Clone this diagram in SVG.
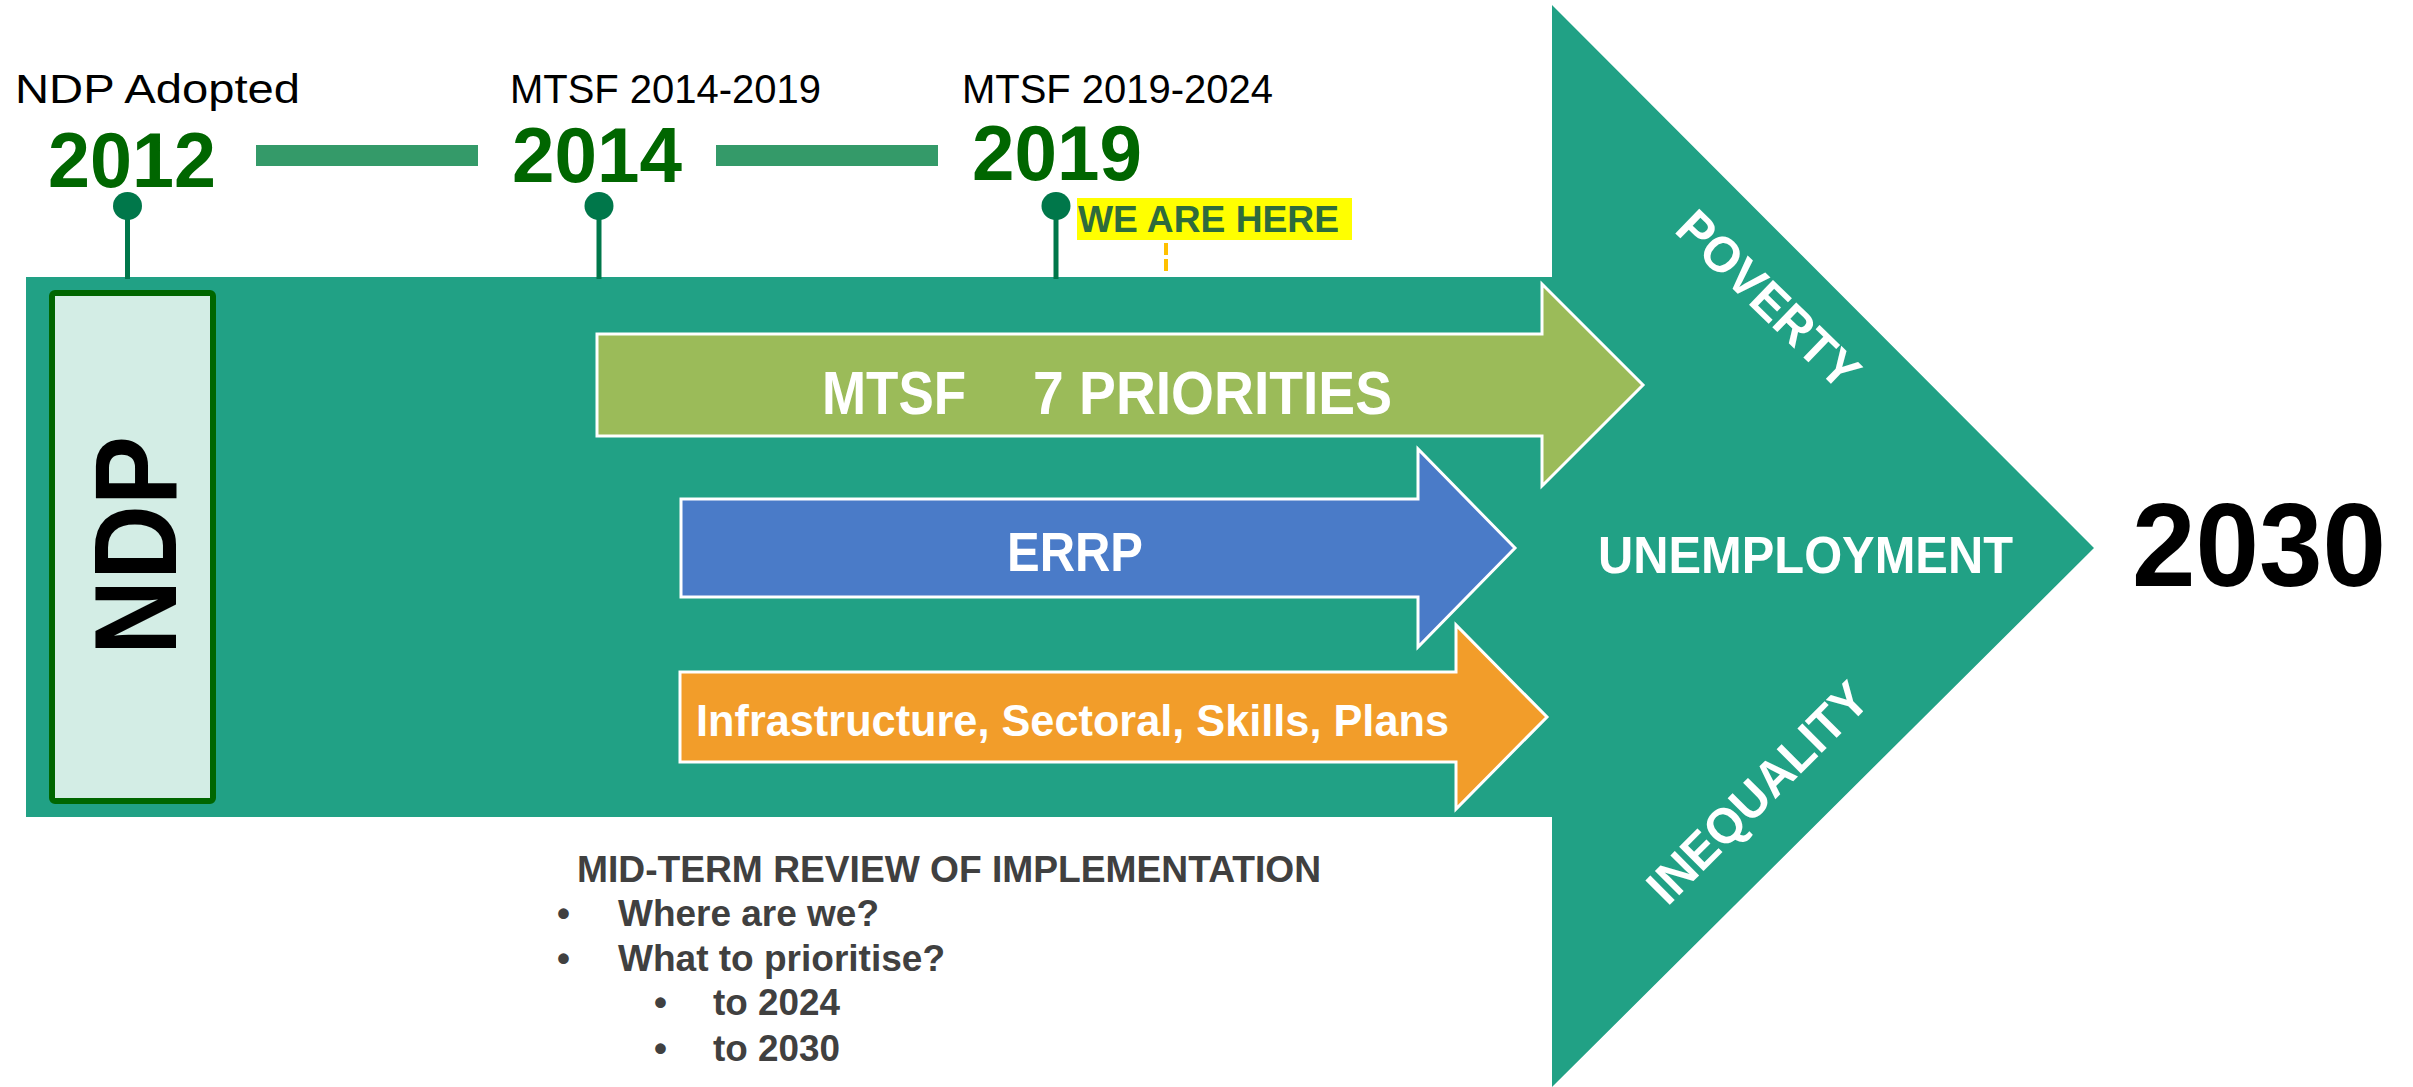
<svg xmlns="http://www.w3.org/2000/svg" width="2413" height="1087" viewBox="0 0 2413 1087">
<style>
.yr{font-family:"Liberation Sans",Arial,sans-serif;font-weight:bold;font-size:78px;fill:#006600}
.lbl{font-family:"Liberation Sans",Arial,sans-serif;font-size:40px;fill:#000}
.wt{font-family:"Liberation Sans",Arial,sans-serif;font-weight:bold;fill:#fff}
.arr{stroke:#fff;stroke-width:3;stroke-linejoin:miter}
.rev{font-family:"Liberation Sans",Arial,sans-serif;font-weight:bold;font-size:37px;fill:#404040}
.pin{fill:#00774A}
.stem{stroke:#00774A;stroke-width:5}
.bar{fill:#349A69}
</style>
<rect width="2413" height="1087" fill="#fff"/>

<g id="main-arrow">
<polygon points="26,277 1552,277 1552,5 2094,548 1552,1087 1552,817 26,817" fill="#21A185"/>
</g>

<g id="connectors">
<rect class="bar" x="256" y="145" width="222" height="21"/>
<rect class="bar" x="716" y="145" width="222" height="21"/>
<line class="stem" x1="127.5" y1="206" x2="127.5" y2="279"/>
<line class="stem" x1="599" y1="206" x2="599" y2="279"/>
<line class="stem" x1="1056" y1="206" x2="1056" y2="279"/>
<line x1="1166" y1="243" x2="1166" y2="273" stroke="#FFC000" stroke-width="4" stroke-dasharray="12 4"/>
</g>

<g id="pin-2012">
<ellipse class="pin" cx="127.5" cy="206" rx="14.5" ry="14"/>
<text class="lbl" x="15" y="103" textLength="285" lengthAdjust="spacingAndGlyphs">NDP Adopted</text>
<text class="yr" x="48" y="187" textLength="168" lengthAdjust="spacingAndGlyphs">2012</text>
</g>
<g id="pin-2014">
<ellipse class="pin" cx="599" cy="206" rx="14.5" ry="14"/>
<text class="lbl" x="510" y="103" textLength="311" lengthAdjust="spacingAndGlyphs">MTSF 2014-2019</text>
<text class="yr" x="512" y="182" textLength="170" lengthAdjust="spacingAndGlyphs">2014</text>
</g>
<g id="pin-2019">
<ellipse class="pin" cx="1056" cy="206" rx="14.5" ry="14"/>
<text class="lbl" x="962" y="103" textLength="311" lengthAdjust="spacingAndGlyphs">MTSF 2019-2024</text>
<text class="yr" x="972" y="180" textLength="170" lengthAdjust="spacingAndGlyphs">2019</text>
</g>

<g id="we-are-here">
<rect x="1077" y="198" width="275" height="42" fill="#FFFF00"/>
<text x="1078" y="232" font-family="'Liberation Sans',Arial,sans-serif" font-weight="bold" font-size="37" fill="#2E6B3C" textLength="261" lengthAdjust="spacingAndGlyphs">WE ARE HERE</text>
</g>

<g id="ndp">
<rect x="52" y="293" width="161" height="508" rx="3" fill="#D3EDE5" stroke="#006600" stroke-width="6"/>
<text transform="translate(134,545.5) rotate(-90)" x="0" y="42" text-anchor="middle" font-family="'Liberation Sans',Arial,sans-serif" font-weight="bold" font-size="116" fill="#000" textLength="219" lengthAdjust="spacingAndGlyphs">NDP</text>
</g>

<g id="mtsf-priorities">
<polygon class="arr" points="597,334 1542,334 1542,284 1643,385 1542,486 1542,436 597,436" fill="#9BBB59"/>
<text class="wt" x="822" y="414" font-size="62" textLength="144" lengthAdjust="spacingAndGlyphs">MTSF</text>
<text class="wt" x="1033" y="414" font-size="62" textLength="359" lengthAdjust="spacingAndGlyphs">7 PRIORITIES</text>
</g>

<g id="errp">
<polygon class="arr" points="681,499 1418,499 1418,449 1515,548 1418,647 1418,597 681,597" fill="#4A7BC8"/>
<text class="wt" x="1007" y="571" font-size="56" textLength="136" lengthAdjust="spacingAndGlyphs">ERRP</text>
</g>

<g id="plans">
<polygon class="arr" points="680,672 1456,672 1456,625 1547,717 1456,809 1456,762 680,762" fill="#F29D2A"/>
<text class="wt" x="696" y="736" font-size="45" textLength="753" lengthAdjust="spacingAndGlyphs">Infrastructure, Sectoral, Skills, Plans</text>
</g>

<g id="poverty">
<text class="wt" transform="translate(1769,299) rotate(44)" x="0" y="18" text-anchor="middle" font-size="50" textLength="232" lengthAdjust="spacingAndGlyphs">POVERTY</text>
</g>
<g id="unemployment">
<text class="wt" x="1598" y="573" font-size="52" textLength="415" lengthAdjust="spacingAndGlyphs">UNEMPLOYMENT</text>
</g>
<g id="inequality">
<text class="wt" transform="translate(1757,792) rotate(-45)" x="0" y="18" text-anchor="middle" font-size="50" textLength="289" lengthAdjust="spacingAndGlyphs">INEQUALITY</text>
</g>

<g id="target-2030">
<text x="2132" y="586" font-family="'Liberation Sans',Arial,sans-serif" font-weight="bold" font-size="118" fill="#000" textLength="254" lengthAdjust="spacingAndGlyphs">2030</text>
</g>

<g id="review">
<text class="rev" x="577" y="882" textLength="744" lengthAdjust="spacingAndGlyphs">MID-TERM REVIEW OF IMPLEMENTATION</text>
<text class="rev" x="557" y="926">•</text>
<text class="rev" x="618" y="926" textLength="261" lengthAdjust="spacingAndGlyphs">Where are we?</text>
<text class="rev" x="557" y="971">•</text>
<text class="rev" x="618" y="971" textLength="327" lengthAdjust="spacingAndGlyphs">What to prioritise?</text>
<text class="rev" x="654" y="1015">•</text>
<text class="rev" x="713" y="1015" textLength="127" lengthAdjust="spacingAndGlyphs">to 2024</text>
<text class="rev" x="654" y="1061">•</text>
<text class="rev" x="713" y="1061" textLength="127" lengthAdjust="spacingAndGlyphs">to 2030</text>
</g>
</svg>
